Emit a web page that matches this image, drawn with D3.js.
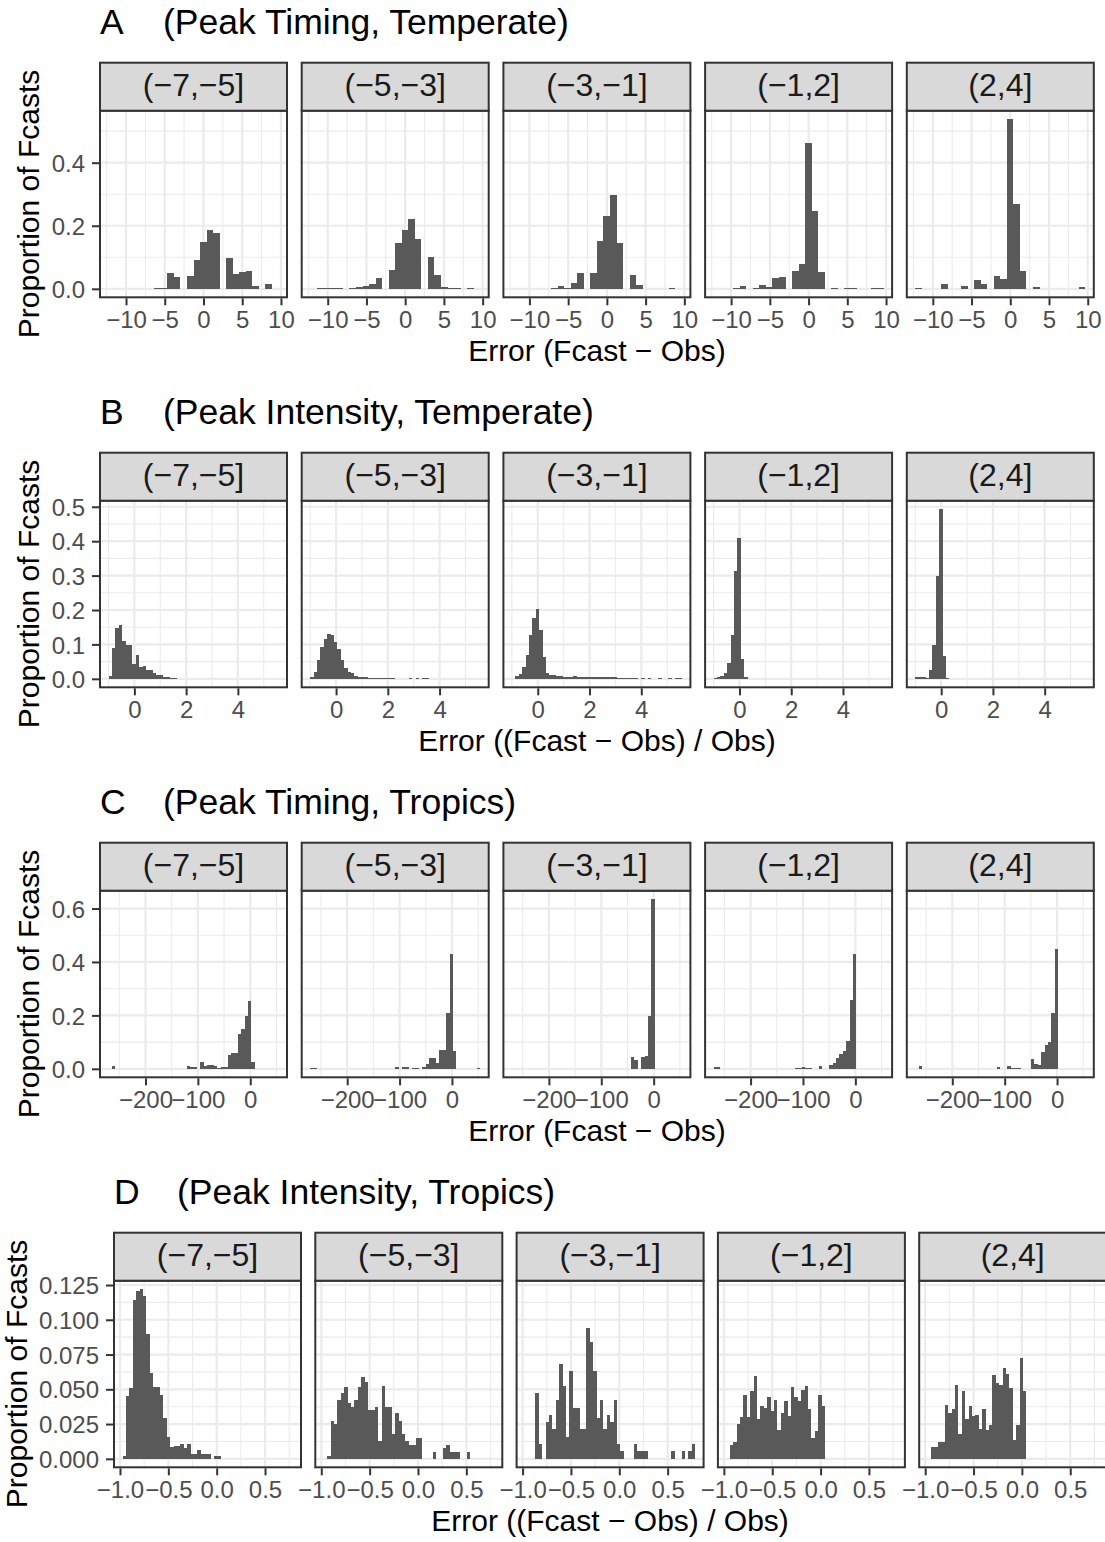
<!DOCTYPE html>
<html>
<head>
<meta charset="utf-8">
<script src="https://cdnjs.cloudflare.com/ajax/libs/d3/7.8.5/d3.min.js"></script>
<style>
body { margin: 0; background: #fff; }
svg text { font-family: "Liberation Sans", Arial, Helvetica, sans-serif; }
</style>
</head>
<body>
<svg id="chart" width="1105" height="1542"></svg>
<script>
// facets
var leadBins = ["(−7,−5]", "(−5,−3]", "(−3,−1]", "(−1,2]", "(2,4]"];

var rowLetters = ["A", "B", "C", "D"];
var rowTitles = ["(Peak Timing, Temperate)", "(Peak Intensity, Temperate)",
                 "(Peak Timing, Tropics)", "(Peak Intensity, Tropics)"];
var xTitles = ["Error (Fcast − Obs)", "Error ((Fcast − Obs) / Obs)",
               "Error (Fcast − Obs)", "Error ((Fcast − Obs) / Obs)"];
var yTitle = "Proportion of Fcasts";

// histogram bins per row: left edge of first bin, bin width, number of bins
var binStart = [-12.26, -1.0, -270.6, -0.974];
var binWidth = [0.844, 0.1314, 6.49, 0.03516];
var binCount = [26, 50, 50, 50];

// ticks
var xTicks = [[-10, -5, 0, 5, 10], [0, 2, 4], [-200, -100, 0], [-1, -0.5, 0, 0.5]];
var xMinor = [[-12.5, -7.5, -2.5, 2.5, 7.5], [-1, 1, 3, 5], [-250, -150, -50, 50], [-0.75, -0.25, 0.25, 0.75]];
var yTicks = [[0, 0.2, 0.4], [0, 0.1, 0.2, 0.3, 0.4, 0.5], [0, 0.2, 0.4, 0.6],
              [0, 0.025, 0.05, 0.075, 0.1, 0.125]];
var yMinor = [[0.1, 0.3, 0.5], [0.05, 0.15, 0.25, 0.35, 0.45], [0.1, 0.3, 0.5],
              [0.0125, 0.0375, 0.0625, 0.0875, 0.1125]];
var xFormat = ["d", "d", "d", ".1f"];
var yFormat = [".1f", ".1f", ".1f", ".3f"];

// proportion of forecasts in each bin (bin index = position in array)
var timingTemperate = [
  [0,0,0,0,0,0,0,0.002,0.002,0.051,0.037,0,0.040,0.091,0.148,0.186,0.177,0,0.097,0.047,0.053,0.056,0.008,0,0.015,0],
  [0,0.002,0.002,0.002,0.004,0,0.003,0.006,0.008,0.014,0.034,0,0.059,0.145,0.186,0.223,0.159,0,0.100,0.043,0.005,0.002,0.002,0,0.002,0],
  [0,0,0,0,0,0,0.002,0.008,0.004,0.019,0.051,0,0.051,0.151,0.232,0.297,0.146,0,0.043,0.012,0,0,0,0,0.002,0],
  [0,0,0,0.004,0.008,0,0.002,0.012,0.005,0.034,0.037,0,0.057,0.078,0.462,0.247,0.053,0,0.004,0,0.002,0.002,0,0,0.003,0.004],
  [0.002,0,0,0,0.015,0,0,0.008,0,0.028,0.015,0,0.040,0.032,0.538,0.269,0.057,0,0.005,0,0,0,0,0,0,0.005]
];

var intensityTemperate = [
  [0.008,0.089,0.147,0.155,0.11,0.097,0.097,0.044,0.069,0.034,0.037,0.027,0.025,0.018,0.011,0.011,0.006,0.004,0.002,0.002],
  [0.006,0.02,0.054,0.093,0.117,0.13,0.127,0.108,0.088,0.054,0.03,0.02,0.0155,0.0087,0.006,0.004,0.004,0.003,0.003,0.003,
   0.003,0.002,0.002,0.002,0.002,0,0,0,0,0.002,0,0.002,0,0.002,0.002],
  [0,0.008,0.0145,0.035,0.07,0.127,0.177,0.2025,0.141,0.064,0.0155,0.0107,0.0107,0.0078,0.0078,0.006,0.006,0.004,0.0078,0.006,
   0.005,0.005,0.004,0.004,0.004,0.006,0.006,0.006,0.006,0.005,0.004,0.003,0.003,0.003,0.002,0.002,0.002,0,0.002,0,
   0.002,0,0,0.002,0,0,0.002,0,0.002,0.002],
  [0.003,0.004,0.008,0.017,0.047,0.127,0.313,0.408,0.059,0.004],
  [0.004,0.004,0.004,0.003,0.025,0.098,0.298,0.493,0.066,0.002]
];

var timingTropics = [
  [0,0.012,0,0,0,0,0,0,0,0,0,0,0,0,0,0,0,0,0,0,0,0,0,0.01,0.008,0.008,0,0.025,0.01,0.015,
   0.015,0.01,0.004,0.008,0.008,0.051,0.06,0.058,0.13,0.15,0.197,0.254,0.025],
  [0.003,0.003,0,0,0,0,0,0,0,0,0,0,0,0,0,0,0,0,0,0,0,0,0,0,0,0.005,0,0.008,0.005,0,
   0.003,0.003,0,0.008,0.017,0.04,0.04,0.022,0.07,0.07,0.21,0.43,0.0675,0,0,0,0,0,0,0.003],
  [0,0,0,0,0,0,0,0,0,0,0,0,0,0,0,0,0,0,0,0,0,0,0,0,0,0,0,0,0,0,
   0,0,0,0,0,0.045,0.0325,0,0.045,0.0475,0.1975,0.635],
  [0.005,0.005,0,0,0,0,0,0,0,0,0,0,0,0,0,0,0,0,0,0,0,0,0,0,0.003,0.003,0.005,0.003,0.003,0,
   0,0.01,0,0,0.014,0.022,0.04,0.055,0.0675,0.105,0.2575,0.43],
  [0,0.01,0,0,0,0,0,0,0,0,0,0,0,0,0,0,0,0,0,0,0,0,0,0,0.005,0,0,0.01,0.003,0.003,
   0.003,0,0,0,0.0375,0.0175,0.014,0.0625,0.09,0.1,0.209,0.449]
];

var intensityTropics = [
  [0.002,0.045,0.051,0.114,0.121,0.122,0.117,0.090,0.0615,0.052,0.052,0.046,0.029,0.0154,0.0087,0.009,0.009,0.011,0.0075,0.011,
   0.0034,0.0034,0.0067,0.0034,0.0034,0.0034,0,0.002,0.002],
  [0,0.002,0.027,0.025,0.042,0.047,0.052,0.040,0.0375,0.042,0.052,0.059,0.0555,0.035,0.035,0.0375,0.013,0.0525,0.0375,0.0375,
   0.018,0.033,0.027,0.018,0.0127,0.0099,0.0099,0.0147,0.0147,0,0,0,0.005,0,0,0.0075,0.0099,0.005,0.005,0.005,0,0,0.005],
  [0,0,0,0.0471,0.0106,0,0.0264,0.0315,0.0214,0.0423,0.0683,0.0524,0.0159,0.0632,0.0365,0.0365,0.0214,0.0214,0.0942,0.0841,
   0.0632,0.0293,0.0423,0.0214,0.0315,0.0264,0.0423,0.0106,0.0055,0,0,0,0.0106,0.0055,0.0055,0.0055,0,0,0,0,
   0,0,0,0.0055,0,0,0.0055,0,0.0055,0.0106],
  [0,0.0096,0.012,0.025,0.030,0.0459,0.030,0.0488,0.0596,0.0286,0.038,0.0365,0.0445,0.0344,0.0423,0.0207,0.0329,0.0416,0.0308,0.0517,
   0.0445,0.0416,0.0495,0.0524,0.0358,0.0149,0.02,0.0459,0.038],
  [0,0.0084,0.0084,0.012,0.012,0.0387,0.0329,0.0358,0.0531,0.0178,0.0488,0.0286,0.038,0.0308,0.0315,0.0214,0.0358,0.0207,0.0243,0.0603,
   0.0546,0.0531,0.0654,0.0611,0.051,0.0135,0.0243,0.0726,0.0488]
];

var rowData = [timingTemperate, intensityTemperate, timingTropics, intensityTropics];

// LAYOUT
var svg = d3.select("svg#chart");
var rowTop = [110.7, 500.7, 890.7, 1280.7],   // top of panels (below strips)
    rowLeft = [100, 100, 100, 114],
    panelStep = [201.7, 201.7, 201.7, 201.3],
    panelW = 187, panelH = 186.6, stripH = 48,
    yTitleX = [39, 39, 39, 27];

var gridColor = "#ebebeb", darkLine = "#333333";

rowData.forEach(function(panels, r) {

    var span = binCount[r] * binWidth[r],
        lo = binStart[r], hi = binStart[r] + span;

    var x = d3.scaleLinear()
        .domain([lo - 0.05 * span, hi + 0.05 * span])
        .range([0, panelW]);

    var ymax = d3.max(panels, function(p) { return d3.max(p); });
    var y = d3.scaleLinear()
        .domain([-0.05 * ymax, 1.05 * ymax])
        .range([panelH, 0]);

    var top = rowTop[r];

    // row title
    svg.append("text")
        .attr("x", rowLeft[r])
        .attr("y", top - 77)
        .style("font-size", "35.5px")
        .text(rowLetters[r]);
    svg.append("text")
        .attr("x", rowLeft[r] + 63)
        .attr("y", top - 77)
        .style("font-size", "35.5px")
        .text(rowTitles[r]);

    panels.forEach(function(heights, p) {
        var px = rowLeft[r] + p * panelStep[r];
        var g = svg.append("g")
            .attr("transform", "translate(" + px + "," + top + ")");

        g.append("rect")
            .attr("width", panelW).attr("height", panelH)
            .attr("fill", "#fff");

        // minor grid
        g.selectAll(".vminor").data(xMinor[r]).enter().append("line")
            .attr("x1", function(d) { return x(d); }).attr("x2", function(d) { return x(d); })
            .attr("y1", 0).attr("y2", panelH)
            .attr("stroke", gridColor).attr("stroke-width", 1.1);
        g.selectAll(".hminor").data(yMinor[r]).enter().append("line")
            .attr("y1", function(d) { return y(d); }).attr("y2", function(d) { return y(d); })
            .attr("x1", 0).attr("x2", panelW)
            .attr("stroke", gridColor).attr("stroke-width", 1.1);

        // major grid
        g.selectAll(".vmajor").data(xTicks[r]).enter().append("line")
            .attr("x1", function(d) { return x(d); }).attr("x2", function(d) { return x(d); })
            .attr("y1", 0).attr("y2", panelH)
            .attr("stroke", gridColor).attr("stroke-width", 2.2);
        g.selectAll(".hmajor").data(yTicks[r]).enter().append("line")
            .attr("y1", function(d) { return y(d); }).attr("y2", function(d) { return y(d); })
            .attr("x1", 0).attr("x2", panelW)
            .attr("stroke", gridColor).attr("stroke-width", 2.2);

        // bars (edges snapped to whole pixels so neighbours tile without seams)
        var bars = heights.map(function(h, k) {
            return { x0: lo + k * binWidth[r], x1: lo + (k + 1) * binWidth[r], h: h };
        }).filter(function(d) { return d.h > 0; });

        function sx(v) { return Math.round(px + x(v)) - px; }

        g.selectAll(".bar").data(bars).enter().append("rect")
            .attr("class", "bar")
            .attr("x", function(d) { return sx(d.x0); })
            .attr("width", function(d) { return sx(d.x1) - sx(d.x0); })
            .attr("y", function(d) { return y(d.h); })
            .attr("height", function(d) { return y(0) - y(d.h); })
            .attr("fill", "#595959")
            .attr("shape-rendering", "crispEdges");

        // border
        g.append("rect")
            .attr("width", panelW).attr("height", panelH)
            .attr("fill", "none").attr("stroke", darkLine).attr("stroke-width", 2);

        // strip
        g.append("rect")
            .attr("y", -stripH)
            .attr("width", panelW).attr("height", stripH)
            .attr("fill", "#d9d9d9").attr("stroke", darkLine).attr("stroke-width", 2);
        g.append("text")
            .attr("x", panelW / 2)
            .attr("y", -stripH + 33)
            .attr("text-anchor", "middle")
            .attr("fill", "#1a1a1a")
            .style("font-size", "32px")
            .text(leadBins[p]);

        // x axis
        var xa = g.append("g")
            .attr("transform", "translate(0," + panelH + ")")
            .call(d3.axisBottom(x).tickValues(xTicks[r]).tickSize(7).tickPadding(7)
                .tickFormat(d3.format(xFormat[r])));
        xa.select(".domain").remove();
        xa.selectAll("line").attr("stroke", darkLine).attr("stroke-width", 2).attr("transform", "translate(0,1)");
        xa.selectAll("text").attr("fill", "#4d4d4d").style("font-size", "24px")
            .style("font-family", "'Liberation Sans', Arial, sans-serif");

        // y axis on first panel
        if (p === 0) {
            var ya = g.append("g")
                .call(d3.axisLeft(y).tickValues(yTicks[r]).tickSize(7).tickPadding(8)
                    .tickFormat(d3.format(yFormat[r])));
            ya.select(".domain").remove();
            ya.selectAll("line").attr("stroke", darkLine).attr("stroke-width", 2).attr("transform", "translate(-1,0)");
            ya.selectAll("text").attr("fill", "#4d4d4d").style("font-size", "24px")
                .attr("dy", "0.36em")
                .style("font-family", "'Liberation Sans', Arial, sans-serif");
        }
    });

    // axis titles
    var left = rowLeft[r], right = rowLeft[r] + 4 * panelStep[r] + panelW;
    svg.append("text")
        .attr("x", (left + right) / 2)
        .attr("y", top + panelH + 64)
        .attr("text-anchor", "middle")
        .style("font-size", "30px")
        .text(xTitles[r]);

    svg.append("text")
        .attr("transform", "translate(" + yTitleX[r] + "," + (top + panelH / 2) + ") rotate(-90)")
        .attr("text-anchor", "middle")
        .style("font-size", "30px")
        .text(yTitle);
});
</script>
</body>
</html>
